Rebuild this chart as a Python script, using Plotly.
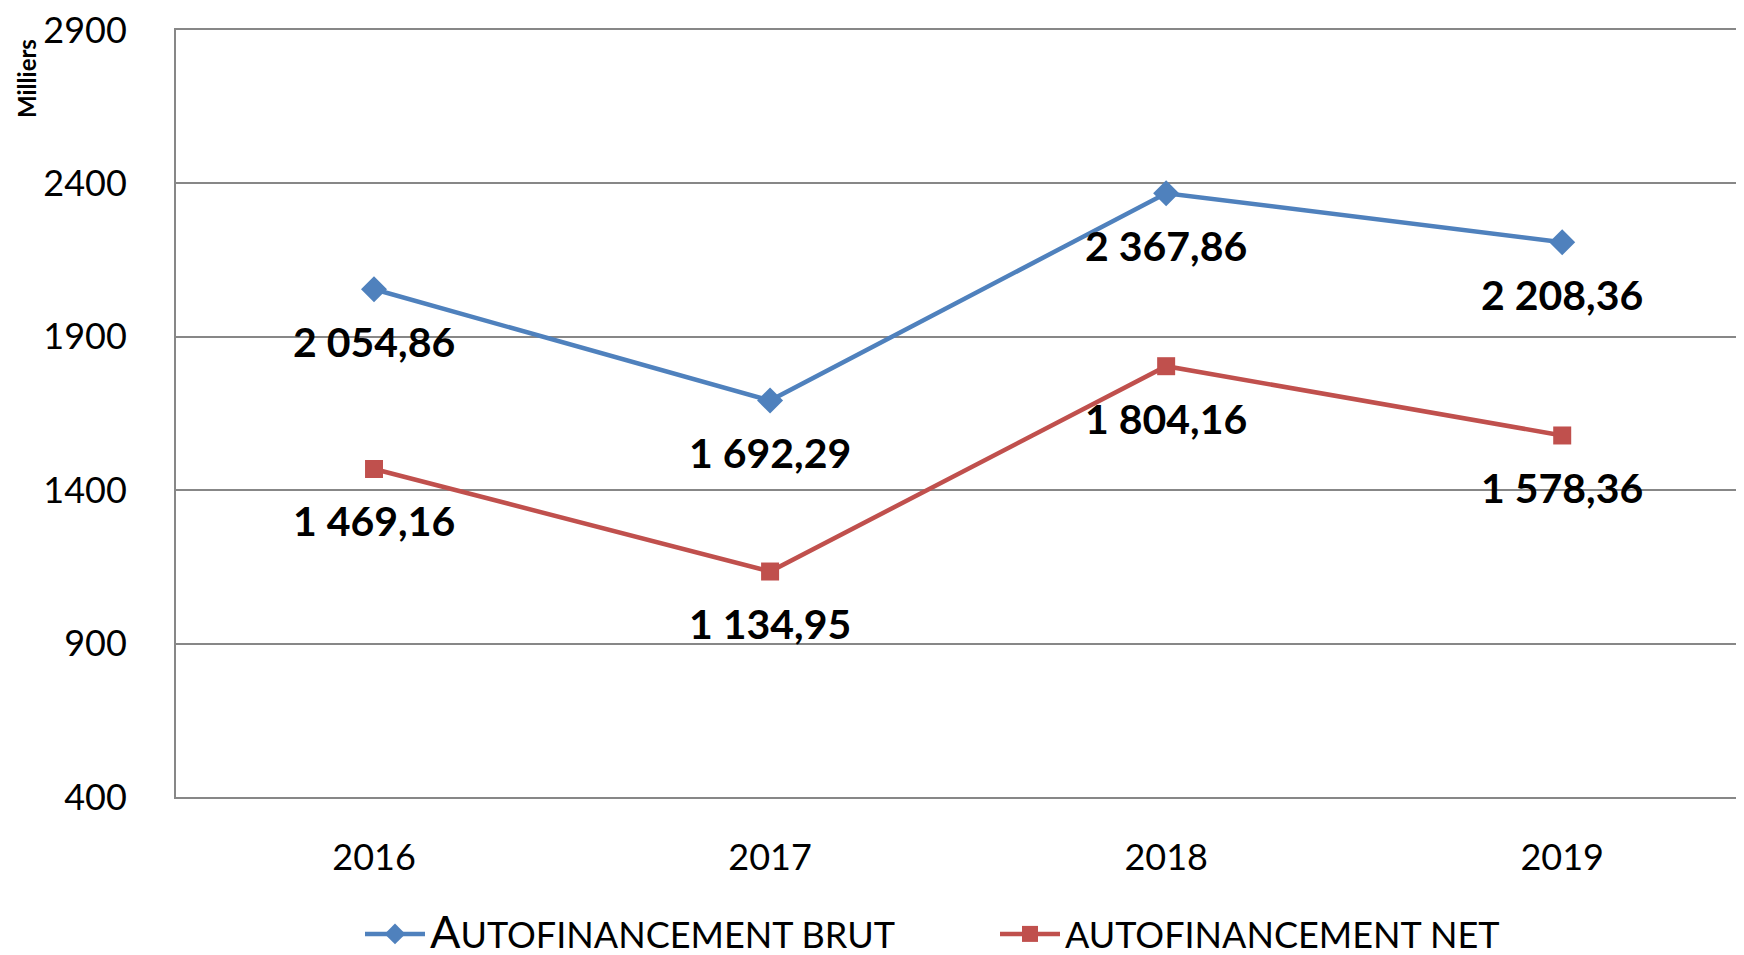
import plotly.graph_objects as go

years = ["2016", "2017", "2018", "2019"]
brut = [2054.86, 1692.29, 2367.86, 2208.36]
net = [1469.16, 1134.95, 1804.16, 1578.36]
y_ticks = [400, 900, 1400, 1900, 2400, 2900]

BLUE = "#4F81BD"
RED = "#C0504D"
GRID = "#878787"

# page body adds an 8px margin: work in page pixels and subtract it
OFF = 8
W, H = 1744 - OFF, 955 - OFF
L, T = 176 - OFF, 30 - OFF
BOTTOM = 797 - OFF
B = H - BOTTOM
PW, PH = W - L, BOTTOM - T


def fr(v):
    return f"{v:,.2f}".replace(",", " ").replace(".", ",")


fig = go.Figure()
fig.add_trace(go.Scatter(
    x=years, y=brut, mode="lines+markers",
    name="<span style='font-size:45px'>A</span>UTOFINANCEMENT BRUT",
    line=dict(color=BLUE, width=4.5),
    marker=dict(symbol="diamond", size=20, color=BLUE),
))
fig.add_trace(go.Scatter(
    x=years, y=net, mode="lines+markers",
    name="AUTOFINANCEMENT NET",
    line=dict(color=RED, width=4.5),
    marker=dict(symbol="square", size=18, color=RED),
))

annotations = []
for series in (brut, net):
    for i, v in enumerate(series):
        annotations.append(dict(
            x=i, y=v, xref="x", yref="y", text=fr(v), showarrow=False,
            yshift=-52, font=dict(family="Lato", size=41, color="black", weight="bold"),
        ))
annotations.append(dict(
    x=(26 - OFF - L) / PW, y=(BOTTOM - (79 - OFF)) / PH, xref="paper", yref="paper",
    text="<b>Milliers</b>", showarrow=False, textangle=-90,
    xanchor="center", yanchor="middle",
    font=dict(family="Lato", size=24, color="black"),
))

fig.update_layout(
    width=W, height=H,
    margin=dict(l=L, r=0, t=T, b=B, autoexpand=False),
    plot_bgcolor="white", paper_bgcolor="white",
    font=dict(family="Lato", color="black"),
    showlegend=True,
    legend=dict(
        orientation="h", x=(360 - OFF - L) / PW, xanchor="left",
        y=-((934 - OFF) - BOTTOM) / PH, yanchor="middle",
        font=dict(family="Lato", size=36, color="black"),
        itemwidth=60, entrywidth=560, entrywidthmode="pixels",
        bgcolor="rgba(0,0,0,0)",
    ),
    annotations=annotations,
)
fig.update_xaxes(
    type="category", range=[-0.5, 3.459],
    showgrid=False, showline=True, linecolor=GRID, linewidth=2, mirror=True,
    ticks="", tickfont=dict(family="Lato", size=36, color="black"),
    ticklabelstandoff=28, ticklabeloverflow="allow",
)
fig.update_yaxes(
    range=[400, 2900], tickvals=y_ticks, ticktext=[str(t) for t in y_ticks],
    showgrid=True, gridcolor=GRID, gridwidth=2,
    showline=True, linecolor=GRID, linewidth=2, zeroline=False,
    ticks="", tickfont=dict(family="Lato", size=36, color="black"),
    ticklabelstandoff=40, ticklabeloverflow="allow",
)

fig.write_html("out.html")
